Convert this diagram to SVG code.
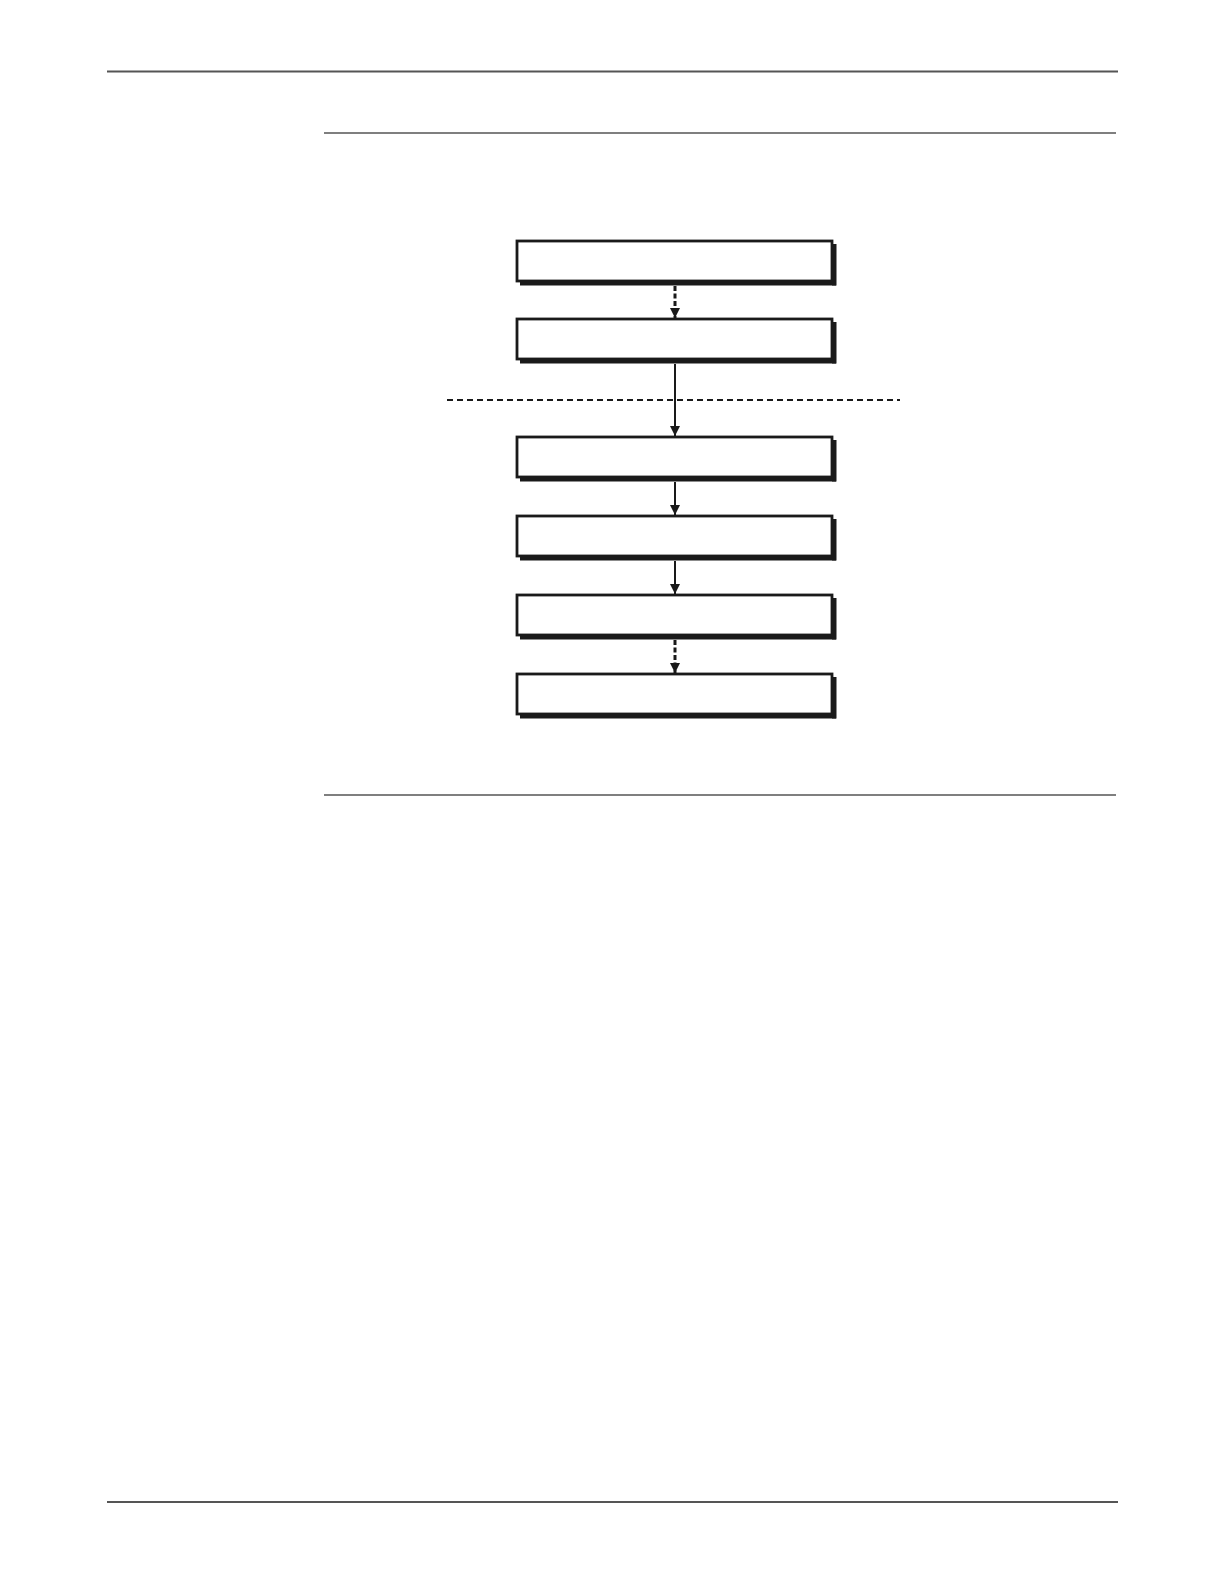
<svg xmlns="http://www.w3.org/2000/svg" width="1224" height="1584" viewBox="0 0 1224 1584">
<style>
.rule{stroke:#555;fill:none}
.box{fill:#fff;stroke:#1a1a1a;stroke-width:2.8}
.shadow{fill:#1a1a1a}
.conn{stroke:#1a1a1a;stroke-width:2;fill:none}
.dash{stroke-width:3;stroke-dasharray:5,2.5}
.sep{stroke:#1a1a1a;stroke-width:1.8;stroke-dasharray:6,4;fill:none}
</style>
<defs>
<marker id="ah" viewBox="0 0 10 10" refX="10" refY="5" markerWidth="10" markerHeight="10" markerUnits="userSpaceOnUse" orient="auto">
<path d="M0,0 L10,5 L0,10 z" fill="#1a1a1a"/>
</marker>
</defs>
<rect width="1224" height="1584" fill="#fff"/>
<g id="rules">
<line class="rule" x1="107" y1="71.5" x2="1118" y2="71.5" stroke-width="2"/>
<line class="rule" x1="324" y1="133" x2="1116" y2="133" stroke-width="1.3"/>
<line class="rule" x1="324" y1="795" x2="1116" y2="795" stroke-width="1.3"/>
<line class="rule" x1="107" y1="1502" x2="1118" y2="1502" stroke-width="2"/>
</g>
<g id="separator">
<line class="sep" x1="447" y1="400" x2="900" y2="400"/>
</g>
<g id="connectors">
<line class="conn dash" x1="675" y1="286" x2="675" y2="318" marker-end="url(#ah)"/>
<line class="conn" x1="675" y1="364" x2="675" y2="436" marker-end="url(#ah)"/>
<line class="conn" x1="675" y1="482" x2="675" y2="515" marker-end="url(#ah)"/>
<line class="conn" x1="675" y1="561" x2="675" y2="594" marker-end="url(#ah)"/>
<line class="conn dash" x1="675" y1="640" x2="675" y2="673" marker-end="url(#ah)"/>
</g>
<g id="node1"><rect class="box" x="517" y="241" width="315" height="40"/><rect class="shadow" x="520" y="281" width="316" height="4.5"/><rect class="shadow" x="832" y="244" width="4.5" height="41.5"/></g>
<g id="node2"><rect class="box" x="517" y="319" width="315" height="40"/><rect class="shadow" x="520" y="359" width="316" height="4.5"/><rect class="shadow" x="832" y="322" width="4.5" height="41.5"/></g>
<g id="node3"><rect class="box" x="517" y="437" width="315" height="40"/><rect class="shadow" x="520" y="477" width="316" height="4.5"/><rect class="shadow" x="832" y="440" width="4.5" height="41.5"/></g>
<g id="node4"><rect class="box" x="517" y="516" width="315" height="40"/><rect class="shadow" x="520" y="556" width="316" height="4.5"/><rect class="shadow" x="832" y="519" width="4.5" height="41.5"/></g>
<g id="node5"><rect class="box" x="517" y="595" width="315" height="40"/><rect class="shadow" x="520" y="635" width="316" height="4.5"/><rect class="shadow" x="832" y="598" width="4.5" height="41.5"/></g>
<g id="node6"><rect class="box" x="517" y="674" width="315" height="40"/><rect class="shadow" x="520" y="714" width="316" height="4.5"/><rect class="shadow" x="832" y="677" width="4.5" height="41.5"/></g>
</svg>
